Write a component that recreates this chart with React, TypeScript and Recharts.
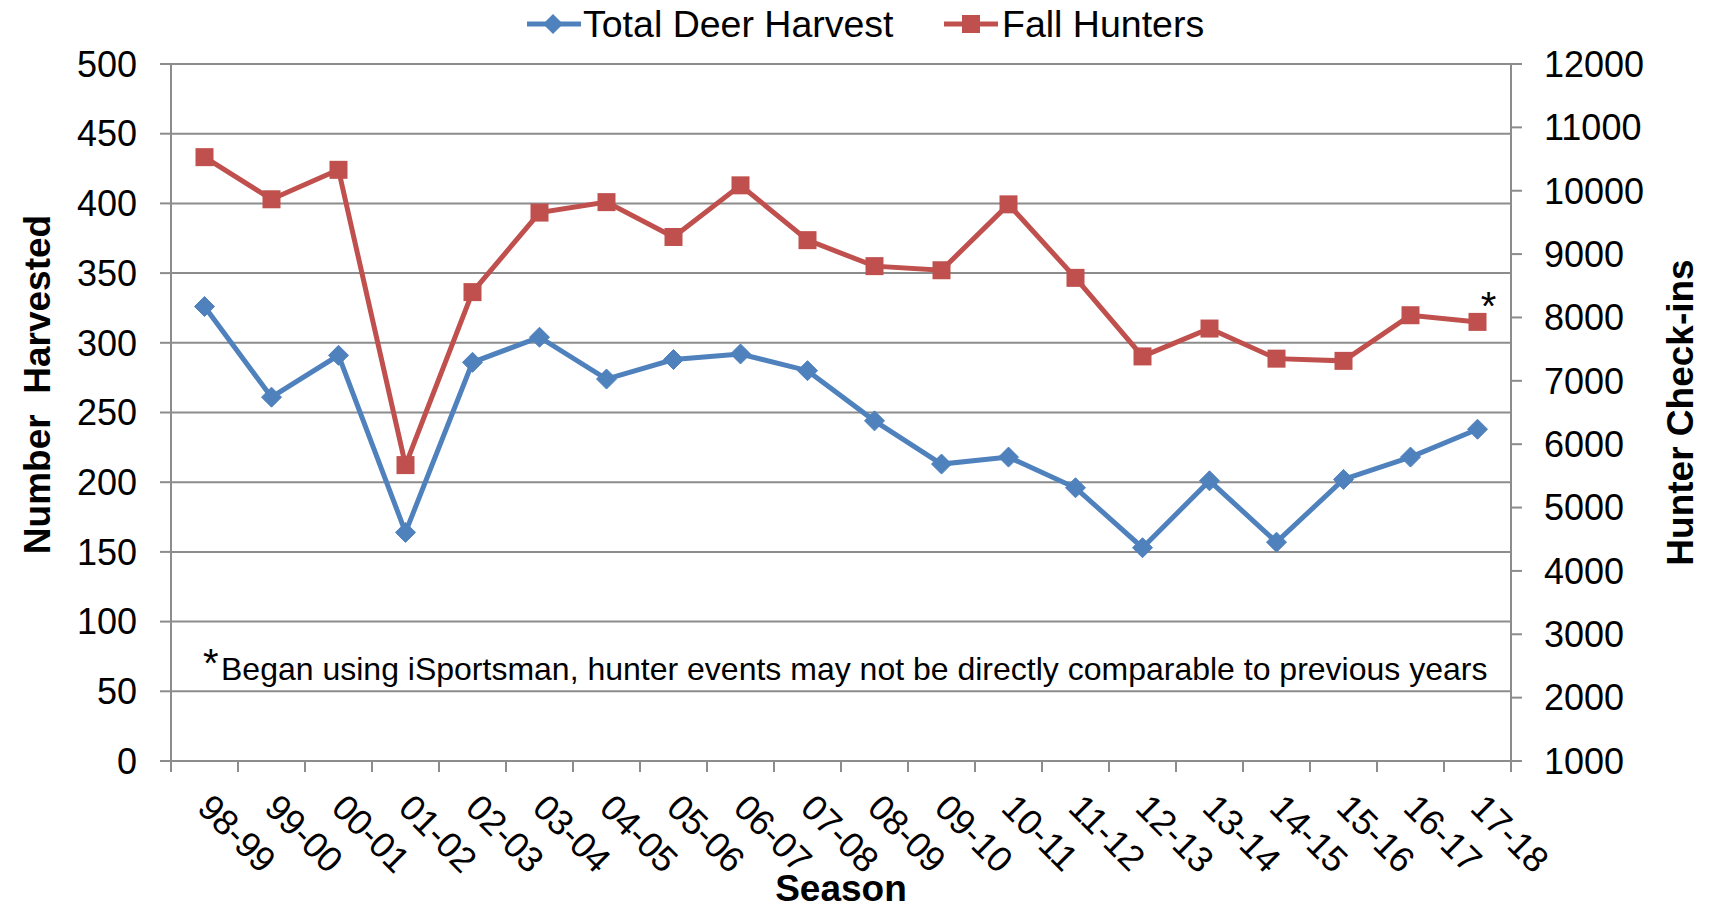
import React from "react";
import {
  ComposedChart,
  Line,
  XAxis,
  YAxis,
  CartesianGrid,
  Legend,
  LabelList,
  Customized,
} from "recharts";

const seasons = [
  "98-99", "99-00", "00-01", "01-02", "02-03", "03-04", "04-05", "05-06", "06-07", "07-08",
  "08-09", "09-10", "10-11", "11-12", "12-13", "13-14", "14-15", "15-16", "16-17", "17-18",
];
const deerHarvest = [326, 261, 291, 164, 286, 304, 274, 288, 292, 280, 244, 213, 218, 196, 153, 201, 157, 202, 218, 238];
const fallHunters = [10530, 9865, 10330, 5670, 8400, 9655, 9820, 9270, 10085, 9220, 8810, 8745, 9785, 8625, 7385, 7825, 7350, 7315, 8035, 7930];
const harvestTicks = [0, 50, 100, 150, 200, 250, 300, 350, 400, 450, 500];
const checkinTicks = [1000, 2000, 3000, 4000, 5000, 6000, 7000, 8000, 9000, 10000, 11000, 12000];

const FONT = '"Liberation Sans", Arial, sans-serif';
const BLUE = "#4F81BD";
const RED = "#C0504D";
const GRID = "#8c8c8c";

const data = seasons.map((s, i) => ({
  season: s,
  harvest: deerHarvest[i],
  hunters: fallHunters[i],
}));

function Diamond(props: any) {
  const { cx, cy } = props;
  if (cx == null || cy == null) return null;
  const r = 10;
  return (
    <polygon
      points={`${cx},${cy - r} ${cx + r},${cy} ${cx},${cy + r} ${cx - r},${cy}`}
      fill={BLUE}
      stroke={BLUE}
      strokeWidth={1}
    />
  );
}

function Square(props: any) {
  const { cx, cy } = props;
  if (cx == null || cy == null) return null;
  const h = 9;
  return <rect x={cx - h} y={cy - h} width={h * 2} height={h * 2} fill={RED} />;
}

// excel style: tick marks sit between categories, labels turned 45deg
function SeasonTick(props: any) {
  const { x, y, payload, index, visibleTicksCount, width } = props;
  const count = visibleTicksCount || seasons.length;
  const band = (Number(width) || 1340) / count;
  const left = x - band / 2;
  const tx = x;
  const ty = y + 40;
  return (
    <g>
      <line x1={left} y1={y} x2={left} y2={y + 11} stroke={GRID} strokeWidth={2} />
      {index === count - 1 && (
        <line x1={x + band / 2} y1={y} x2={x + band / 2} y2={y + 11} stroke={GRID} strokeWidth={2} />
      )}
      <text
        x={tx}
        y={ty}
        transform={`rotate(45, ${tx}, ${ty})`}
        dominantBaseline="central"
        textAnchor="start"
        fontSize={36}
        fontFamily={FONT}
        fill="#000"
      >
        {payload.value}
      </text>
    </g>
  );
}

function renderLegend() {
  return (
    <div style={{ position: "relative", width: 1710, height: 64, fontFamily: FONT, fontSize: 37.5 }}>
      <div style={{ position: "absolute", left: 527, top: 4, display: "flex", alignItems: "center", whiteSpace: "nowrap" }}>
        <svg width={54} height={40}>
          <line x1={0} y1={20} x2={54} y2={20} stroke={BLUE} strokeWidth={5} />
          <polygon points="26,10 36,20 26,30 16,20" fill={BLUE} />
        </svg>
        <span style={{ marginLeft: 2, lineHeight: "40px" }}>Total Deer Harvest</span>
      </div>
      <div style={{ position: "absolute", left: 944, top: 4, display: "flex", alignItems: "center", whiteSpace: "nowrap" }}>
        <svg width={54} height={40}>
          <line x1={0} y1={20} x2={54} y2={20} stroke={RED} strokeWidth={5} />
          <rect x={18} y={11} width={18} height={18} fill={RED} />
        </svg>
        <span style={{ marginLeft: 4, lineHeight: "40px" }}>Fall Hunters</span>
      </div>
    </div>
  );
}

function Footnote() {
  return (
    <text x={203} y={680} fontFamily={FONT} fontSize={32} fill="#000">
      <tspan fontSize={40} dy={-3}>*</tspan>
      <tspan x={221} dy={3}>
        Began using iSportsman, hunter events may not be directly comparable to previous years
      </tspan>
    </text>
  );
}

function StarLabel(props: any) {
  const { x, y, index } = props;
  if (index !== seasons.length - 1) return null;
  return (
    <text x={x + 11} y={y - 2} textAnchor="middle" fontSize={40} fontFamily={FONT} fill="#000">
      *
    </text>
  );
}

export default function App() {
  return (
    <div style={{ position: "absolute", left: 0, top: 0, background: "#fff" }}>
      <ComposedChart
        width={1710}
        height={908}
        data={data}
        margin={{ top: 0, right: 0, bottom: 0, left: 0 }}
      >
        <CartesianGrid yAxisId="left" vertical={false} stroke={GRID} strokeWidth={2} />
        <XAxis
          dataKey="season"
          scale="band"
          height={147}
          interval={0}
          tickLine={false}
          tickSize={0}
          tickMargin={0}
          axisLine={{ stroke: GRID, strokeWidth: 2 }}
          tick={<SeasonTick />}
          label={(p: any) => {
            const vb = p.viewBox;
            return (
              <text
                x={vb.x + vb.width / 2}
                y={vb.y + 140}
                textAnchor="middle"
                fontSize={37}
                fontWeight="bold"
                fontFamily={FONT}
                fill="#000"
              >
                Season
              </text>
            );
          }}
        />
        <YAxis
          yAxisId="left"
          width={171}
          domain={[0, 500]}
          ticks={harvestTicks}
          interval={0}
          tickSize={11}
          tickMargin={23}
          axisLine={{ stroke: GRID, strokeWidth: 2 }}
          tickLine={{ stroke: GRID, strokeWidth: 2 }}
          tick={{ fontSize: 36, fill: "#000", fontFamily: FONT }}
          label={(p: any) => {
            const vb = p.viewBox;
            const cx = 50;
            const cy = vb.y + vb.height / 2 - 28;
            return (
              <text
                x={cx}
                y={cy}
                transform={`rotate(-90, ${cx}, ${cy})`}
                textAnchor="middle"
                fontSize={37}
                fontWeight="bold"
                fontFamily={FONT}
                fill="#000"
                style={{ whiteSpace: "pre" }}
              >
                {"Number  Harvested"}
              </text>
            );
          }}
        />
        <YAxis
          yAxisId="right"
          orientation="right"
          width={199}
          domain={[1000, 12000]}
          ticks={checkinTicks}
          interval={0}
          tickSize={11}
          tickMargin={22}
          axisLine={{ stroke: GRID, strokeWidth: 2 }}
          tickLine={{ stroke: GRID, strokeWidth: 2 }}
          tick={{ fontSize: 36, fill: "#000", fontFamily: FONT }}
          label={(p: any) => {
            const vb = p.viewBox;
            const cx = 1693;
            const cy = vb.y + vb.height / 2;
            return (
              <text
                x={cx}
                y={cy}
                transform={`rotate(-90, ${cx}, ${cy})`}
                textAnchor="middle"
                fontSize={37}
                fontWeight="bold"
                fontFamily={FONT}
                fill="#000"
              >
                Hunter Check-ins
              </text>
            );
          }}
        />
        <Legend verticalAlign="top" content={renderLegend} wrapperStyle={{ left: 0, top: 0 }} />
        <Line
          yAxisId="left"
          dataKey="harvest"
          name="Total Deer Harvest"
          stroke={BLUE}
          strokeWidth={5}
          dot={<Diamond />}
          activeDot={false}
          isAnimationActive={false}
        />
        <Line
          yAxisId="right"
          dataKey="hunters"
          name="Fall Hunters"
          stroke={RED}
          strokeWidth={5}
          dot={<Square />}
          activeDot={false}
          isAnimationActive={false}
        >
          <LabelList dataKey="hunters" content={<StarLabel />} />
        </Line>
        <Customized component={Footnote} />
      </ComposedChart>
    </div>
  );
}
